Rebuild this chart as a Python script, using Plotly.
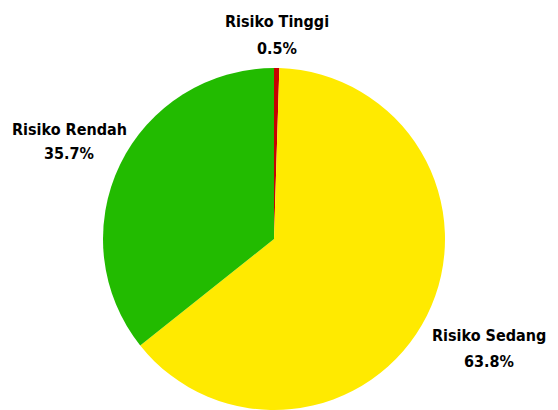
import plotly.graph_objects as go

# data
labels = ["Risiko Tinggi", "Risiko Sedang", "Risiko Rendah"]
values = [0.5, 63.8, 35.7]
colors = ["#c80000", "#ffea00", "#22bb00"]

W, H = 558, 410
TOP = 68
PLOT_H = H - TOP

# label centres in pixels (name line, percent line)
label_px = [(277, 22, 49), (489, 335, 361), (69, 129, 153)]

fig = go.Figure(go.Pie(
    labels=labels,
    values=values,
    sort=False,
    direction="clockwise",
    rotation=0,
    marker=dict(colors=colors, line=dict(width=0)),
    textinfo="none",
    hoverinfo="label+percent",
    domain=dict(x=[0, 548 / 558], y=[0, 1]),
    showlegend=False,
))

font = dict(family="DejaVu Sans Condensed, sans-serif", size=16, color="#000000")
total = sum(values)
for lab, val, (px, py1, py2) in zip(labels, values, label_px):
    for txt, py in [(lab, py1), (f"{val / total * 100:.1f}%", py2)]:
        fig.add_annotation(
            x=px / W, y=(H - py) / PLOT_H, xref="paper", yref="paper",
            text=f"<b>{txt}</b>",
            showarrow=False,
            xanchor="center", yanchor="middle",
            font=font,
        )

fig.update_layout(
    width=W, height=H,
    margin=dict(l=0, r=0, t=TOP, b=0),
    paper_bgcolor="white",
    plot_bgcolor="white",
)

fig.write_html("out.html", config={"displayModeBar": False},
               post_script="document.body.style.margin='0';")
